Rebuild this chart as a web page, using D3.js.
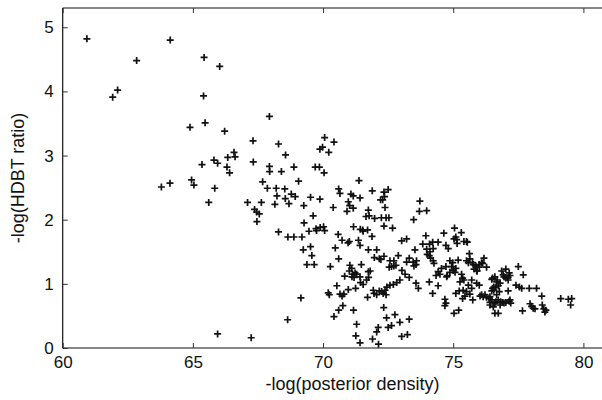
<!DOCTYPE html>
<html>
<head>
<meta charset="utf-8">
<script src="https://cdn.jsdelivr.net/npm/d3@7"></script>
<style>
  body { margin: 0; background: #fff; overflow: hidden; }
  svg { display: block; overflow: hidden; }
  text { font-family: "Liberation Sans", Arial, sans-serif; fill: #111; }
</style>
</head>
<body>
<div id="chart"></div>
<script>
// tick values
const xTicks = [60, 65, 70, 75, 80];
const yTicks = [0, 1, 2, 3, 4, 5];

// points [ -log(posterior density), -log(HDBT ratio) ], grouped by x range
const ptsA = [
  [60.93, 4.82], [64.13, 4.80], [62.84, 4.48], [61.92, 3.91], [62.11, 4.02], [64.89, 3.44],
  [63.79, 2.51], [64.12, 2.57], [64.95, 2.62], [65.04, 2.54], [65.43, 4.53], [66.03, 4.39],
  [65.41, 3.93], [65.47, 3.51], [66.22, 3.38], [66.58, 3.05], [66.62, 2.98], [66.34, 2.97],
  [65.81, 2.93], [65.95, 2.88], [65.35, 2.86], [66.31, 2.82], [66.41, 2.73], [65.84, 2.49],
  [65.61, 2.27], [65.95, 0.22]
];
const ptsB = [
  [67.94, 3.61], [67.31, 3.23], [68.29, 3.18], [69.88, 3.10], [69.98, 3.13], [68.56, 3.01],
  [67.32, 2.90], [67.94, 2.83], [67.95, 2.75], [68.40, 2.75], [68.88, 2.82], [69.70, 2.82],
  [69.86, 2.82], [69.06, 2.60], [67.68, 2.59], [67.86, 2.49], [68.20, 2.49], [68.53, 2.48],
  [68.23, 2.37], [68.55, 2.33], [68.78, 2.40], [68.93, 2.36], [69.52, 2.35], [69.88, 2.32],
  [67.10, 2.27], [67.63, 2.27], [67.37, 2.16], [67.45, 2.12], [67.55, 2.09], [67.46, 1.97],
  [68.15, 2.24], [68.69, 2.25], [69.26, 2.22], [69.62, 2.06], [69.27, 1.95], [69.46, 1.82],
  [69.73, 1.86], [69.75, 1.83], [69.89, 1.88], [68.29, 1.81], [68.65, 1.73], [68.88, 1.73],
  [69.19, 1.73], [69.24, 1.53], [69.52, 1.58], [69.57, 1.44], [69.38, 1.30], [69.66, 1.30],
  [69.15, 0.78], [68.64, 0.44], [67.24, 0.16]
];
const ptsC = [
  [70.06, 3.28], [70.42, 3.21], [70.22, 3.05], [70.04, 2.73], [71.38, 2.61], [71.89, 2.45],
  [70.60, 2.48], [70.65, 2.41], [71.07, 2.40], [71.16, 2.37], [71.42, 2.34], [70.39, 2.19],
  [70.97, 2.28], [71.02, 2.22], [71.16, 2.18], [70.92, 2.13], [71.74, 2.15], [71.65, 2.05],
  [71.77, 2.06], [71.98, 2.02], [70.02, 1.89], [70.06, 1.83], [71.17, 1.89], [71.43, 1.85],
  [71.52, 1.84], [71.54, 1.82], [71.88, 1.74], [71.71, 1.84], [70.58, 1.77], [70.73, 1.68],
  [70.96, 1.64], [71.01, 1.66], [71.36, 1.68], [71.42, 1.60], [71.74, 1.53], [71.97, 1.41],
  [70.47, 1.56], [70.60, 1.39], [70.28, 1.27], [71.03, 1.29], [71.10, 1.24], [71.14, 1.15],
  [71.19, 1.10], [71.01, 1.20], [71.23, 1.17], [71.29, 1.15], [71.11, 1.11], [70.83, 1.12],
  [71.47, 1.30], [71.81, 1.20], [71.74, 1.19], [71.67, 1.06], [71.75, 1.10], [71.42, 1.11],
  [71.44, 1.02], [71.54, 0.99], [70.20, 0.86], [70.24, 0.83], [70.53, 0.97], [70.65, 0.84],
  [70.80, 0.84], [70.97, 0.91], [71.25, 0.93], [70.73, 0.81], [71.93, 0.90], [71.71, 0.79],
  [71.96, 0.85], [70.76, 0.66], [70.60, 0.59], [70.42, 0.49], [71.17, 0.59], [71.29, 0.37],
  [71.26, 0.19], [71.42, 0.08], [71.90, 0.14]
];
const ptsD = [
  [72.34, 2.43], [72.36, 2.36], [72.50, 2.47], [72.29, 2.31], [72.21, 2.31], [72.38, 2.19],
  [72.24, 2.03], [72.42, 2.03], [72.53, 2.03], [72.34, 1.90], [72.67, 1.87], [73.72, 2.29],
  [73.70, 2.13], [73.98, 2.14], [73.48, 2.00], [73.02, 1.67], [73.21, 1.70], [73.95, 1.75],
  [73.83, 1.62], [73.53, 1.53], [72.06, 1.53], [72.22, 1.38], [72.34, 1.43], [72.16, 1.39],
  [72.89, 1.44], [72.54, 1.26], [72.57, 1.36], [72.72, 1.36], [72.63, 1.27], [72.72, 1.28],
  [72.80, 1.29], [73.31, 1.40], [73.21, 1.34], [73.46, 1.34], [73.57, 1.30], [73.59, 1.36],
  [73.49, 1.28], [73.03, 1.21], [73.15, 1.15], [73.31, 1.10], [72.95, 1.06], [72.83, 1.02],
  [72.70, 0.99], [72.57, 0.98], [72.45, 0.95], [72.38, 0.90], [72.31, 0.85], [72.25, 0.88],
  [72.16, 0.89], [72.06, 0.83], [72.42, 0.83], [73.57, 1.01], [73.66, 0.93], [72.33, 0.63],
  [72.44, 0.47], [72.76, 0.52], [72.95, 0.40], [73.31, 0.45], [72.12, 0.32], [72.06, 0.25],
  [72.50, 0.32], [72.63, 0.35], [73.02, 0.18], [73.24, 0.21], [72.13, 0.06]
];
const ptsE = [
  [74.09, 1.62], [74.21, 1.65], [74.42, 1.65], [74.23, 1.55], [74.11, 1.50], [73.98, 1.54],
  [74.72, 1.60], [74.81, 1.55], [75.03, 1.70], [75.10, 1.73], [75.13, 1.69], [75.41, 1.66],
  [75.51, 1.66], [75.54, 1.65], [75.15, 1.63], [74.00, 1.46], [74.08, 1.44], [74.13, 1.40],
  [74.23, 1.36], [74.26, 1.32], [74.87, 1.36], [74.98, 1.33], [74.94, 1.27], [75.00, 1.21],
  [75.10, 1.24], [75.07, 1.18], [75.19, 1.37], [74.72, 1.27], [74.77, 1.13], [74.87, 1.18],
  [75.51, 1.36], [75.64, 1.39], [75.77, 1.30], [75.87, 1.28], [75.80, 1.23], [75.90, 1.20],
  [75.62, 1.47], [75.58, 1.33], [75.74, 1.33], [74.42, 1.19], [74.49, 1.15], [74.34, 1.13],
  [74.55, 1.24], [74.75, 1.11], [75.32, 1.15], [75.36, 1.09], [75.26, 1.03], [75.41, 1.06],
  [75.71, 1.06], [75.90, 1.01], [74.08, 1.03], [74.42, 0.97], [74.21, 0.85], [74.68, 0.76],
  [74.72, 0.70], [74.68, 0.66], [75.03, 0.54], [75.21, 0.59], [75.10, 0.85], [75.23, 0.89],
  [75.38, 0.90], [75.51, 0.88], [75.45, 0.81], [75.64, 0.84], [75.36, 0.77], [75.71, 0.93],
  [75.58, 0.98], [75.75, 0.75], [75.05, 1.87], [75.31, 1.80], [74.64, 1.79], [75.92, 1.20]
];
const ptsF = [
  [76.00, 1.30], [76.09, 1.33], [76.18, 1.40], [76.28, 1.26], [76.00, 1.26], [76.13, 1.32],
  [76.00, 0.98], [76.48, 1.07], [76.60, 1.11], [76.67, 1.03], [76.56, 0.95], [76.73, 0.97],
  [76.80, 1.01], [76.86, 1.20], [76.92, 1.14], [77.02, 1.23], [77.11, 1.10], [77.15, 1.17],
  [77.50, 1.27], [77.69, 1.14], [76.95, 1.11], [77.02, 1.09], [77.18, 1.13], [77.11, 1.06],
  [76.51, 1.09], [76.69, 1.06], [76.64, 0.95], [76.51, 0.93], [76.48, 0.89], [76.56, 0.90],
  [76.77, 0.88], [77.41, 0.98], [77.54, 0.95], [77.63, 0.93], [77.92, 0.93], [78.20, 0.93],
  [77.11, 0.89], [76.03, 0.81], [76.09, 0.83], [76.15, 0.80], [76.22, 0.83], [76.28, 0.79],
  [76.41, 0.80], [76.48, 0.75], [76.41, 0.71], [76.60, 0.70], [76.54, 0.64], [76.80, 0.67],
  [76.90, 0.71], [77.02, 0.71], [77.18, 0.75], [76.60, 0.54], [76.73, 0.54], [76.38, 0.77],
  [76.67, 0.83], [76.73, 0.75], [76.64, 0.72], [76.41, 0.67], [76.82, 0.72], [76.95, 0.70],
  [77.15, 0.73], [77.21, 0.70], [77.66, 0.58], [77.95, 0.69], [78.01, 0.65], [78.07, 0.62],
  [78.14, 0.61], [78.42, 0.67], [78.48, 0.61], [78.52, 0.56], [78.56, 0.59], [78.40, 0.81],
  [79.13, 0.77], [79.42, 0.76], [79.55, 0.77], [79.51, 0.67]
];

const points = ptsA.concat(ptsB, ptsC, ptsD, ptsE, ptsF);

var width = 602, height = 400;
var mLeft = 62.7, mRight = 642.5, mTop = 8, mBottom = 348;

var svg = d3.select("#chart").append("svg")
  .attr("width", width)
  .attr("height", height);

var x = d3.scaleLinear().domain([60, 82.27]).range([mLeft, mRight]);
var y = d3.scaleLinear().domain([0, 5.3]).range([mBottom, mTop]);

// frame: left, bottom, top (the right side lies past the cropped edge)
var frame = svg.append("g").attr("stroke", "#111").attr("stroke-width", 1.2);
frame.append("line").attr("x1", mLeft).attr("x2", mLeft).attr("y1", mTop).attr("y2", mBottom);
frame.append("line").attr("x1", mLeft).attr("x2", width).attr("y1", mBottom).attr("y2", mBottom);
frame.append("line").attr("x1", mLeft).attr("x2", width).attr("y1", mTop).attr("y2", mTop);

function styleAxis(g) {
  g.select(".domain").remove();
  g.selectAll(".tick line").attr("stroke", "#333").attr("stroke-width", 1);
  g.selectAll("text").style("font-size", "17px").attr("fill", "#111");
}

svg.append("g")
  .attr("transform", `translate(0,${mBottom})`)
  .call(d3.axisBottom(x).tickValues(xTicks).tickSize(-5).tickPadding(8).tickFormat(d3.format("d")))
  .call(styleAxis);

svg.append("g")
  .attr("transform", `translate(0,${mTop})`)
  .call(d3.axisTop(x).tickValues(xTicks).tickSize(-5).tickFormat(""))
  .call(styleAxis);

svg.append("g")
  .attr("transform", `translate(${mLeft},0)`)
  .call(d3.axisLeft(y).tickValues(yTicks).tickSize(-5).tickPadding(9).tickFormat(d3.format("d")))
  .call(styleAxis);

// markers
svg.append("g")
  .selectAll("path")
  .data(points).enter()
  .append("path")
  .attr("d", "M-3.5,0H3.5M0,-3.5V3.5")
  .attr("transform", d => `translate(${x(d[0])},${y(d[1])})`)
  .attr("stroke", "#111")
  .attr("stroke-width", 1.7)
  .attr("fill", "none");

// labels
svg.append("text")
  .attr("x", (mLeft + mRight) / 2)
  .attr("y", 390)
  .attr("text-anchor", "middle")
  .style("font-size", "18px")
  .text("-log(posterior density)");

svg.append("text")
  .attr("transform", `translate(24,${(mTop + mBottom) / 2}) rotate(-90)`)
  .attr("text-anchor", "middle")
  .style("font-size", "18px")
  .text("-log(HDBT ratio)");
</script>
</body>
</html>
